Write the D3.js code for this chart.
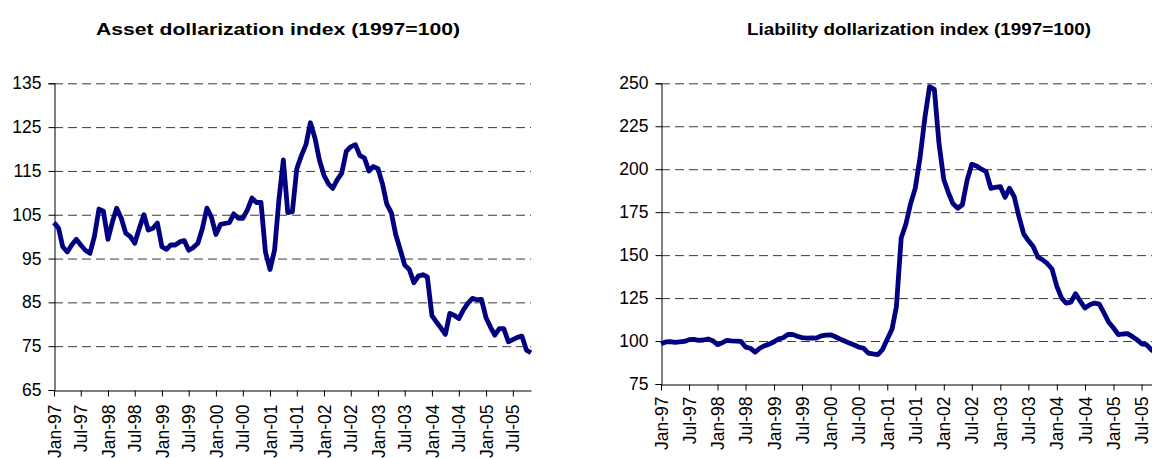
<!DOCTYPE html>
<html>
<head>
<meta charset="utf-8">
<script src="https://cdn.jsdelivr.net/npm/d3@7"></script>
<style>
  body { margin: 0; background: #fff; }
  svg { display: block; font-family: "Liberation Sans", Arial, sans-serif; }
</style>
</head>
<body>
<div id="main"></div>
<script>
// monthly index values, Jan-97 .. Nov-05
var assetIdx = [
  103.2, 101.9, 97.7, 96.5, 98.1, 99.4, 98.1, 96.9, 96.2, 100,
  106.3, 105.8, 99.4, 103.5, 106.5, 104.2, 100.8, 100, 98.5, 101.9,
  105, 101.5, 101.9, 103.1, 97.7, 97.1, 98.1, 98.1, 98.8, 99.1,
  96.9, 97.5, 98.5, 101.8, 106.5, 104.5, 100.5, 102.8, 103, 103.2,
  105.2, 104.2, 104.2, 106.1, 108.8, 107.8, 107.8, 96.5, 92.5, 97,
  108, 117.5, 105.5, 105.7, 115.5, 118.5, 121, 126, 122.5, 117.5,
  114, 112, 111, 113, 114.5, 119.5, 120.5, 121, 118.5, 118,
  115, 116, 115.5, 112, 107.5, 105.5, 100.5, 97, 93.5, 92.5,
  89.5, 91, 91.3, 90.8, 82, 80.5, 79.2, 77.7, 82.5, 82,
  81.3, 83.3, 84.8, 85.9, 85.6, 85.7, 81.5, 79.3, 77.5, 79,
  79, 76, 76.5, 77, 77.3, 74.1, 73.5
];

var liabIdx = [
  98.4, 99.5, 99.6, 99.2, 99.5, 99.8, 100.8, 101, 100.4, 100.6,
  101.2, 100.2, 97.9, 99, 100.4, 100.1, 100, 99.8, 96.5, 95.8,
  93.6, 95.8, 97.3, 98.2, 99.6, 101.3, 101.9, 103.9, 103.8, 102.8,
  102, 101.7, 101.9, 101.7, 103, 103.5, 103.6, 102.5, 101.2, 100,
  98.8, 97.7, 96.5, 95.8, 93, 92.5, 92.1, 95, 101, 107,
  120, 160, 168, 180, 189, 207, 230, 248, 246.5, 215,
  194, 186, 180, 177.3, 179.3, 193.8, 202.9, 201.9, 200, 198.6,
  188.9, 189.5, 189.9, 183.7, 188.9, 184, 172.5, 162.4, 158.5, 155,
  148.8, 147.3, 145, 141.9, 131.8, 125, 122.1, 122.7, 127.5, 123.1,
  119.2, 121.1, 122.1, 121.5, 116.3, 110.9, 107.6, 103.7, 104.1, 104.3,
  102.7, 100.8, 98.4, 97.9, 95, 93, 92
];

var xTickLabels = ["Jan-97", "Jul-97", "Jan-98", "Jul-98", "Jan-99", "Jul-99",
  "Jan-00", "Jul-00", "Jan-01", "Jul-01", "Jan-02", "Jul-02", "Jan-03", "Jul-03",
  "Jan-04", "Jul-04", "Jan-05", "Jul-05"];

var assetTicks = [65, 75, 85, 95, 105, 115, 125, 135];
var liabTicks = [75, 100, 125, 150, 175, 200, 225, 250];

var months = d3.timeMonth.range(new Date(1997, 0, 1), new Date(1997, 0 + assetIdx.length, 1));
var tickDates = xTickLabels.map(function(d, i) { return new Date(1997, i * 6, 1); });

var svg = d3.select("#main").append("svg")
    .attr("width", 1152)
    .attr("height", 458);

// one panel: box = plot area in pixels
function panel(cfg) {
    var x = d3.scaleTime()
        .domain([months[0], months[months.length - 1]])
        .range([cfg.left, cfg.right]);
    var y = d3.scaleLinear()
        .domain([cfg.ticks[0], cfg.ticks[cfg.ticks.length - 1]])
        .range([cfg.bottom, cfg.top]);

    var g = svg.append("g");

    // dashed gridlines
    g.selectAll(".grid")
        .data(cfg.ticks.slice(1))
        .enter().append("line")
        .attr("x1", cfg.left)
        .attr("x2", cfg.right)
        .attr("y1", function(d) { return y(d) + 0.5; })
        .attr("y2", function(d) { return y(d) + 0.5; })
        .attr("stroke", "#3a3a3a")
        .attr("stroke-width", 1)
        .attr("stroke-dasharray", "9,5");

    // y axis
    var yAxis = g.append("g")
        .attr("transform", "translate(" + (cfg.left + 0.5) + ",0)")
        .call(d3.axisLeft(y).tickValues(cfg.ticks).tickSize(6).tickPadding(7));
    yAxis.select(".domain").attr("stroke", "#000");
    yAxis.selectAll(".tick line").attr("stroke", "#000");
    yAxis.selectAll("text")
        .attr("fill", "#000")
        .style("font-size", "17.5px")
        .attr("font-family", null);

    // x axis
    var xAxis = g.append("g")
        .attr("transform", "translate(0," + (cfg.bottom + 0.5) + ")")
        .call(d3.axisBottom(x).tickValues(tickDates)
            .tickFormat(function(d, i) { return xTickLabels[i]; })
            .tickSize(6).tickSizeOuter(0));
    xAxis.select(".domain").attr("stroke", "#000");
    xAxis.selectAll(".tick line").attr("stroke", "#000");
    xAxis.selectAll("text")
        .attr("fill", "#000")
        .style("font-size", "17.5px")
        .attr("font-family", null)
        .attr("text-anchor", "end")
        .attr("transform", "rotate(-90)")
        .attr("x", -cfg.labelGap)
        .attr("y", 0)
        .attr("dy", "0.35em");

    // the series line
    var line = d3.line()
        .x(function(d, i) { return x(months[i]); })
        .y(function(d) { return y(d); });

    g.append("path")
        .datum(cfg.values)
        .attr("d", line)
        .attr("fill", "none")
        .attr("stroke", "#000080")
        .attr("stroke-width", 4.8)
        .attr("stroke-linejoin", "round");

    // title
    g.append("text")
        .attr("x", cfg.titleX)
        .attr("y", 34.5)
        .attr("text-anchor", "middle")
        .attr("textLength", cfg.titleLen)
        .attr("lengthAdjust", "spacingAndGlyphs")
        .style("font-size", "17px")
        .style("font-weight", "bold")
        .text(cfg.title);
}

panel({
    title: "Asset dollarization index (1997=100)",
    titleX: 278, titleLen: 364,
    values: assetIdx, ticks: assetTicks,
    left: 54, right: 531, top: 83.3, bottom: 390,
    labelGap: 14
});

panel({
    title: "Liability dollarization index (1997=100)",
    titleX: 919, titleLen: 344,
    values: liabIdx, ticks: liabTicks,
    left: 661, right: 1160.6, top: 83.3, bottom: 384,
    labelGap: 12
});
</script>
</body>
</html>
